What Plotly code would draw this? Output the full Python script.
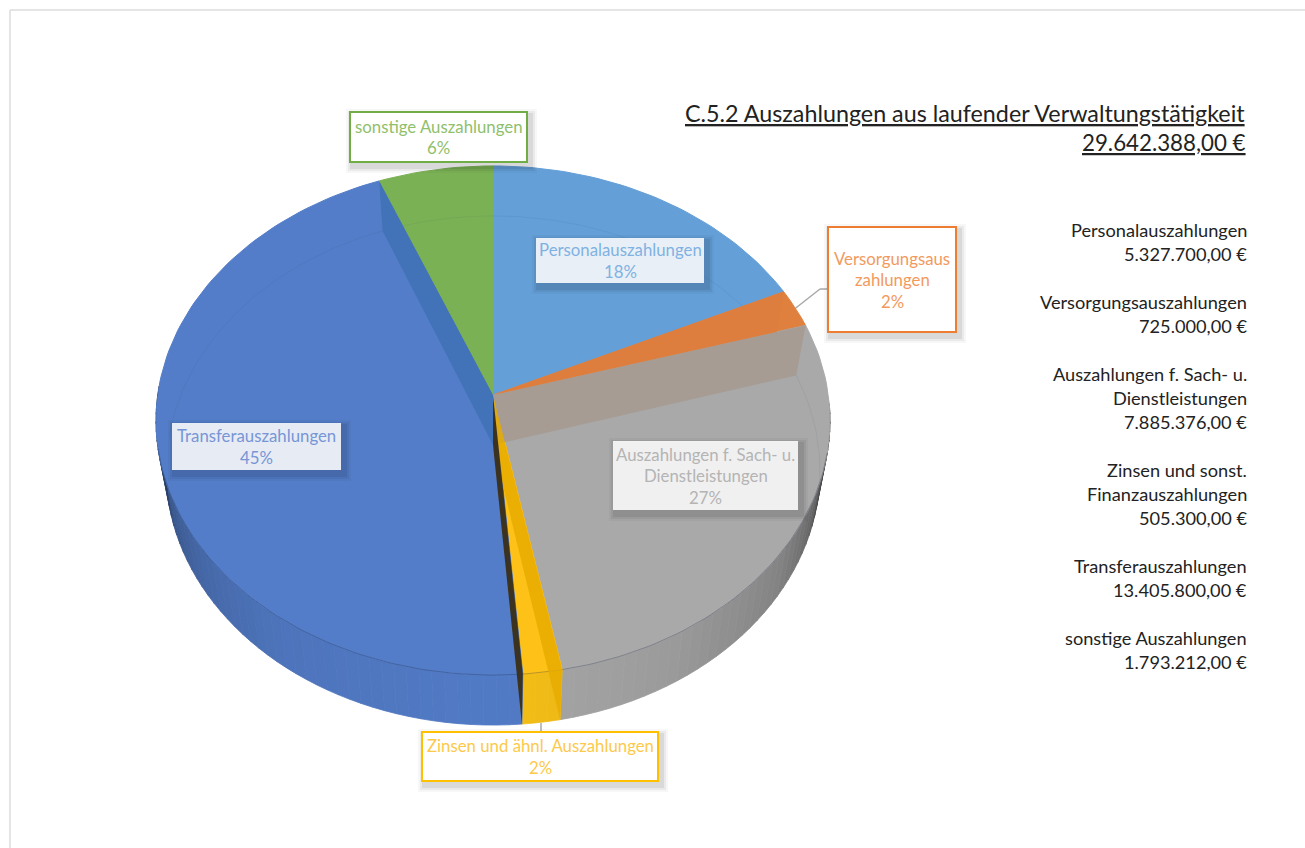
import numpy as np
import plotly.graph_objects as go

# ---------- data ----------
slice_labels = ["Personalauszahlungen", "Versorgungsaus<br>zahlungen",
                "Auszahlungen f. Sach- u.<br>Dienstleistungen",
                "Zinsen und ähnl. Auszahlungen", "Transferauszahlungen",
                "sonstige Auszahlungen"]
values = [5327700.00, 725000.00, 7885376.00, 505300.00, 13405800.00, 1793212.00]
list_labels = [["Personalauszahlungen"], ["Versorgungsauszahlungen"],
               ["Auszahlungen f. Sach- u.", "Dienstleistungen"],
               ["Zinsen und sonst.", "Finanzauszahlungen"],
               ["Transferauszahlungen"], ["sonstige Auszahlungen"]]
top_colors = ["#649fd8", "#e0803f", "#a9a9a9", "#fdc117", "#537dc8", "#7bb155"]
side_colors = ["#5b9bd5", "#ed7d31", "#a8a8a8", "#f6bf17", "#527bc6", "#70ad47"]
text_colors = ["#7fb2e3", "#f29a5e", "#b4b4b4", "#fdc94a", "#7796d6", "#8fc06b"]
title_text = "C.5.2 Auszahlungen aus laufender Verwaltungstätigkeit"

# ---------- geometry of the perspective disc ----------
CX, AY = 493.0, 395.0          # apex of the top face
A, B, C = 335.3, 252.0, 0.1002  # projective disc parameters
DEPTH, SHRINK = 50.0, 0.97     # extrusion of the lower face


def P(theta, low=False):
    u, v = np.sin(theta), np.cos(theta)
    w = 1 + C * v
    s = SHRINK if low else 1.0
    return CX + s * A * u / w, AY - B * v / w + (DEPTH if low else 0.0)


def apex(low=False):
    return CX, AY + (DEPTH if low else 0.0)


def isect(p1, p2, p3, p4):
    p1, p2, p3, p4 = map(np.array, (p1, p2, p3, p4))
    d1, d2 = p2 - p1, p4 - p3
    t = (d2[0] * (p3 - p1)[1] * -1 + d2[1] * (p3 - p1)[0]) / (d1[0] * d2[1] - d1[1] * d2[0])
    return tuple(p1 + t * d1)


def shade(color, f):
    r, g, b = (int(color[i:i + 2], 16) for i in (1, 3, 5))
    return f"rgb({int(r*f)},{int(g*f)},{int(b*f)})"


total = sum(values)
cum = np.cumsum([0] + values) / total * 2 * np.pi
fig = go.Figure()


def poly(pts, color, lw=0.0, lc=None):
    xs = [p[0] for p in pts] + [pts[0][0]]
    ys = [p[1] for p in pts] + [pts[0][1]]
    fig.add_trace(go.Scatter(x=xs, y=ys, mode="lines", fill="toself", fillcolor=color,
                             line=dict(width=lw, color=lc or color), hoverinfo="skip",
                             showlegend=False))


# side wall
for i, col in enumerate(side_colors):
    a0, a1 = cum[i], cum[i + 1]
    lo, hi = max(a0, np.radians(92)), min(a1, np.radians(272))
    if hi <= lo:
        continue
    n = max(2, int(np.degrees(hi - lo) / 2.0))
    g = np.linspace(lo, hi, n + 1)
    for t0, t1 in zip(g[:-1], g[1:]):
        deg = np.degrees((t0 + t1) / 2)
        if deg < 180:
            f = np.interp(180 - deg, [0, 30, 55, 68, 76, 82, 110], [1, .92, .78, .62, .36, .12, .08])
        else:
            f = np.interp(deg - 180, [0, 35, 55, 70, 80, 90, 110], [1, .95, .85, .72, .5, .3, .2])
        c = shade(col, f)
        poly([P(t0), P(t1), P(t1, True), P(t0, True)], c, 0.8, c)

# top faces
for i, col in enumerate(top_colors):
    g = np.linspace(cum[i], cum[i + 1], max(3, int(np.degrees(cum[i + 1] - cum[i]) / 1.5)))
    poly([apex()] + [P(t) for t in g], col, 1.0, col)

# far edge of lower face seen through the translucent top
g = np.radians(np.linspace(-88, 98, 120))
ring = [P(t, True) for t in g]
fig.add_trace(go.Scatter(x=[p[0] for p in ring], y=[p[1] for p in ring], mode="lines",
                         line=dict(width=1, color="rgba(40,60,90,0.08)"), hoverinfo="skip",
                         showlegend=False))
# front edge of the top face
g = np.radians(np.linspace(103, 258, 150))
ring = [P(t) for t in g]
fig.add_trace(go.Scatter(x=[p[0] for p in ring], y=[p[1] for p in ring], mode="lines",
                         line=dict(width=1, color="rgba(30,40,70,0.30)"), hoverinfo="skip",
                         showlegend=False))

# inner walls seen through the faces
th = cum
poly([apex(), P(th[2]), P(th[2], True), apex(True)], "#a69c94")           # Versorgung / Sach
poly([apex(), P(th[5]), P(th[5], True), apex(True)], "#4272b8")           # Transfer / sonstige
poly([apex(), P(th[3]), P(th[3], True), apex(True)], "rgba(232,172,0,0.85)")  # Sach / Zinsen
poly([apex(), P(th[4]), P(th[4], True), apex(True)], "#3b3320")           # Zinsen / Transfer
tip = isect(P(th[1]), P(th[1], True), apex(), P(th[2]))
poly([apex(), P(th[1]), tip], "#dd7e3e")                                  # Personal / Versorgung


# ---------- texts ----------
def de(v):
    return f"{v:,.2f}".replace(",", "#").replace(".", ",").replace("#", ".") + " €"


FONT = "Lato, 'Open Sans', sans-serif"
ann, shapes = [], []

boxes = [(536, 238, 704, 283, False), (828, 227, 956, 332, True), (613, 441, 798, 510, False),
         (422, 732, 658, 781, True), (172, 423, 341, 470, False), (350, 112, 527, 162, True)]
border_colors = ["#5b9bd5", "#ed7d31", "#a5a5a5", "#ffc000", "#4472c4", "#70ad47"]
for i, (x0, y0, x1, y1, bordered) in enumerate(boxes):
    for grow, alpha in ((7, 0.03), (5, 0.05), (3, 0.07)):
        shapes.append(dict(type="rect", xref="x", yref="y", x0=x0 + 3 - grow, y0=y0 + 4 - grow,
                           x1=x1 + 3 + grow, y1=y1 + 4 + grow,
                           fillcolor=f"rgba(0,0,0,{alpha})", line=dict(width=0), layer="above"))
    shapes.append(dict(type="rect", xref="x", yref="y", x0=x0, y0=y0, x1=x1, y1=y1,
                       fillcolor="rgba(255,255,255,0.98)" if bordered else "rgba(255,255,255,0.87)",
                       line=dict(width=2 if bordered else 0, color=border_colors[i]), layer="above"))
    pct = round(100 * values[i] / total)
    lines = slice_labels[i].split("<br>") + [f"{pct}%"]
    ym = (y0 + y1) / 2
    for k, line in enumerate(lines):
        ann.append(dict(x=(x0 + x1) / 2, y=ym + (k - (len(lines) - 1) / 2) * 21.5, text=line,
                        xref="x", yref="y", showarrow=False, xanchor="center", yanchor="middle",
                        font=dict(family=FONT, size=16.8, color=text_colors[i])))

# leader lines
for seq in ([P((th[1] + th[2]) / 2), (820, 289), (828, 289)], [(541, 723), (541, 732)]):
    for p, q in zip(seq[:-1], seq[1:]):
        shapes.append(dict(type="line", xref="x", yref="y", x0=p[0], y0=p[1], x1=q[0], y1=q[1],
                           line=dict(color="#a8a8a8", width=1.5), layer="below"))

# page frame
shapes.append(dict(type="line", xref="x", yref="y", x0=10, y0=10, x1=1305, y1=10,
                   line=dict(color="#dddddd", width=1.5), layer="below"))
shapes.append(dict(type="line", xref="x", yref="y", x0=10, y0=10, x1=10, y1=848,
                   line=dict(color="#dddddd", width=1.5), layer="below"))

# heading
ann.append(dict(x=1247, y=113, text=title_text, xref="x", yref="y", showarrow=False,
                xanchor="right", yanchor="middle",
                font=dict(family=FONT, size=23.3, color="#222222", lineposition="under")))
ann.append(dict(x=1247.5, y=142, text=de(total), xref="x", yref="y", showarrow=False,
                xanchor="right", yanchor="middle",
                font=dict(family=FONT, size=22.3, color="#222222", lineposition="under")))

# value list
y = 230
for names, v in zip(list_labels, values):
    for line in names + [de(v)]:
        ann.append(dict(x=1249, y=y, text=line, xref="x", yref="y", showarrow=False,
                        xanchor="right", yanchor="middle",
                        font=dict(family=FONT, size=18.2, color="#222222")))
        y += 24
    y += 24

axis = dict(visible=False, fixedrange=True, showgrid=False, zeroline=False)
fig.update_layout(width=1305, height=848, margin=dict(l=0, r=0, t=0, b=0),
                  paper_bgcolor="white", plot_bgcolor="white", showlegend=False,
                  xaxis=dict(range=[0, 1305], **axis),
                  yaxis=dict(range=[848, 0], **axis),
                  shapes=shapes, annotations=ann)
fig.write_html("out.html", config={"displayModeBar": False},
               post_script="document.body.style.margin='0';")
